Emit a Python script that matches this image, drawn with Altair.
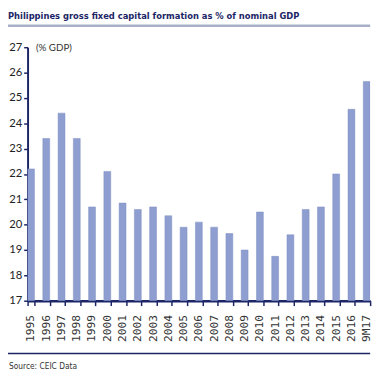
import altair as alt
import pandas as pd

years = ["1995", "1996", "1997", "1998", "1999", "2000", "2001", "2002", "2003", "2004",
         "2005", "2006", "2007", "2008", "2009", "2010", "2011", "2012", "2013", "2014",
         "2015", "2016", "9M17"]
values = [22.2, 23.4, 24.4, 23.4, 20.7, 22.1, 20.85, 20.6, 20.7, 20.35,
          19.9, 20.1, 19.9, 19.65, 19.0, 20.5, 18.75, 19.6, 20.6, 20.7,
          22.0, 24.55, 25.65]
y_ticks = [17, 18, 19, 20, 21, 22, 23, 24, 25, 26, 27]

NAVY = "#1c2566"
BAR = "#8e9ed0"
COND = "'DejaVu Sans Condensed', Lato"

df = pd.DataFrame({"year": years, "value": values})

W, H = 350, 259

bars = alt.Chart(df).mark_bar(color=BAR, stroke="#7d8dc2", strokeWidth=0.5, clip=True).encode(
    x=alt.X("year:N", sort=years, title=None,
            scale=alt.Scale(paddingInner=0.55, paddingOuter=0.0),
            axis=alt.Axis(labelAngle=270, labelAlign="right", labelBaseline="middle",
                          labelFont="DejaVu Sans Mono", labelFontSize=11.5, labelColor="#333",
                          labelPadding=9, domainColor=NAVY, domainWidth=2.5,
                          tickColor=NAVY, tickWidth=1.5, tickSize=5, tickBand="extent")),
    y=alt.Y("value:Q", title="(% GDP)",
            scale=alt.Scale(domain=[17, 27], nice=False, zero=False),
            axis=alt.Axis(values=y_ticks, grid=False, domainColor=NAVY, domainWidth=2,
                          tickColor=NAVY, tickWidth=1.5, tickSize=4,
                          labelFont="Lato", labelFontSize=11.5, labelColor="#222",
                          labelPadding=2, titleAngle=0, titleAlign="left", titleBaseline="middle",
                          titleX=8, titleY=0, titleFont="Lato",
                          titleFontSize=10, titleFontWeight="normal", titleColor="#333")),
)

title_txt = alt.Chart(pd.DataFrame({"t": ["Philippines gross fixed capital formation as % of nominal GDP"]})).mark_text(
    align="left", baseline="middle", font=COND, fontSize=9.5,
    fontWeight="bold", color=NAVY).encode(text="t:N", x=alt.value(-20), y=alt.value(-32))

title_rule = alt.Chart(pd.DataFrame({"a": [0]})).mark_rule(color="#a7b0c8", strokeWidth=2.5).encode(
    x=alt.value(-20), x2=alt.value(W), y=alt.value(-22))

foot_rule = alt.Chart(pd.DataFrame({"a": [0]})).mark_rule(color=NAVY, strokeWidth=1.5).encode(
    x=alt.value(-20), x2=alt.value(W), y=alt.value(313))

source = alt.Chart(pd.DataFrame({"t": ["Source: CEIC Data"]})).mark_text(
    align="left", baseline="middle", font=COND, fontSize=8.5,
    color="#333").encode(text="t:N", x=alt.value(-19), y=alt.value(326))

chart = alt.layer(bars, title_txt, title_rule, foot_rule, source).properties(
    width=W, height=H,
    autosize=alt.AutoSizeParams(type="none"),
    padding={"left": 20, "top": 36, "right": 7, "bottom": 80},
    background="white",
).configure_view(stroke=None)

chart.save("out.html", embed_options={"renderer": "svg", "actions": False})
